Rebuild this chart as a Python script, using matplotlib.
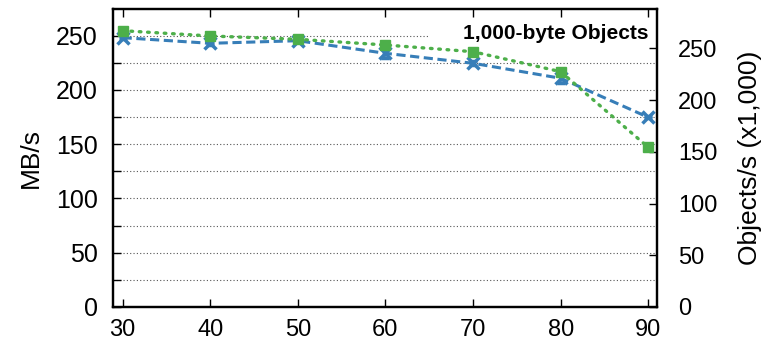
import numpy as np
import matplotlib
matplotlib.use("Agg")
import matplotlib.pyplot as plt
from matplotlib.patches import Rectangle

plt.rcParams['font.family'] = ['Liberation Sans', 'DejaVu Sans']

# load percentage (x axis)
load = [30, 40, 50, 60, 70, 80, 90]

# throughput in MB/s (left axis)
mbps = [248.2, 243.0, 245.4, 233.8, 224.6, 210.8, 174.8]
mbps_err = [1.5, 1.5, 1.0, 4.0, 2.0, 4.0, 1.0]

# objects/s in thousands (right axis)
objs = [267.0, 261.9, 258.7, 253.2, 246.7, 227.4, 154.3]
objs_err = [2.0, 2.5, 2.0, 2.5, 1.5, 2.0, 3.0]

blue = '#377eb8'
green = '#4daf4a'

fig = plt.figure(figsize=(7.66, 3.47), dpi=100)
ax = fig.add_axes([0.1475, 0.1153, 0.7102, 0.8587])
ax2 = ax.twinx()

ax.errorbar(load, mbps, yerr=mbps_err, color=blue, ls=(0, (3, 1.5)), lw=2.2,
            marker='x', ms=8, mew=2.5, capsize=3, elinewidth=1.2, zorder=3)
ax2.errorbar(load, objs, yerr=objs_err, color=green, ls=(0, (0.5, 2)), lw=2.4,
             dash_capstyle='round', marker='s', ms=7, mew=1,
             capsize=3, elinewidth=1.2, zorder=3)

ax.set_xlim(28.9, 91.0)
ymax = 274.6
ax.set_ylim(0, ymax)
ax2.set_ylim(0, ymax * 1.048576)

ax.set_xticks(load)
ax.set_yticks(np.arange(0, 251, 50))
ax.set_yticks(np.arange(25, 251, 50), minor=True)
ax2.set_yticks(np.arange(0, 251, 50))

ax.grid(True, axis='y', which='both', ls=(0, (1, 2)), color='#555555', lw=0.8)
ax.set_axisbelow(True)

ax.tick_params(axis='y', which='major', direction='in', length=6, width=1,
               labelsize=18, pad=11)
ax.tick_params(axis='x', which='major', direction='in', length=6, width=1,
               labelsize=17, top=True, pad=9)
ax.tick_params(axis='y', which='minor', direction='in', length=6, width=1)
ax2.tick_params(axis='y', direction='in', length=6, width=1, labelsize=17, pad=15)

for a in (ax, ax2):
    for s in a.spines.values():
        s.set_linewidth(1.6)

ax.set_ylabel('MB/s', fontsize=19, labelpad=9)
ax2.set_ylabel('Objects/s (x1,000)', fontsize=19, labelpad=15)

# white key box hiding the top gridline behind the title
ax.add_patch(Rectangle((0.583, 0.885), 0.417, 0.07, transform=ax.transAxes,
                       facecolor='white', edgecolor='none', zorder=1))
ax2.text(0.985, 0.919, '1,000-byte Objects', transform=ax2.transAxes,
         ha='right', va='center', fontsize=15, fontweight='bold', zorder=1)

fig.savefig('out.png', dpi=100)
